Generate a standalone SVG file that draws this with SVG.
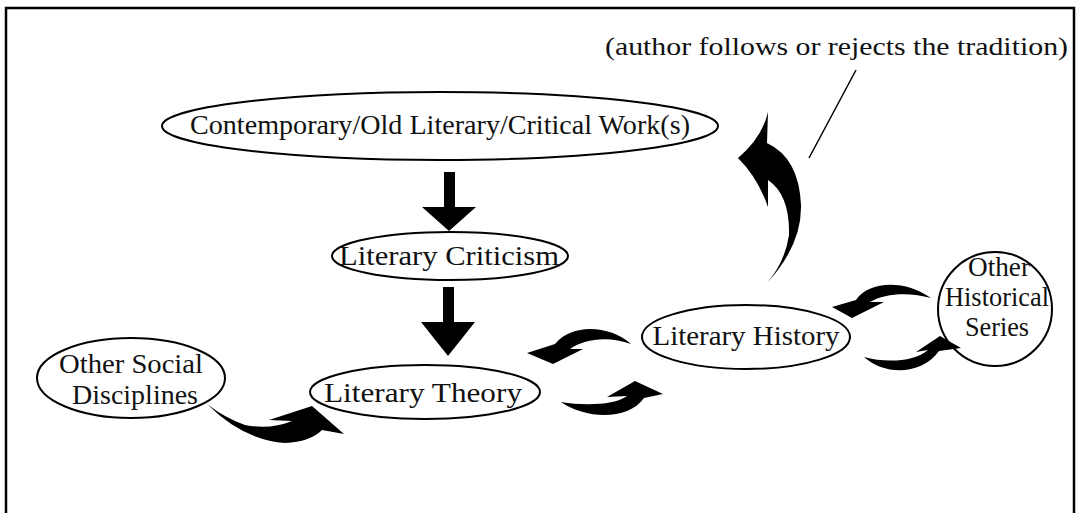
<svg xmlns="http://www.w3.org/2000/svg" width="1084" height="513" viewBox="0 0 1084 513">
<style>
.node{fill:#fff;stroke:#000;stroke-width:2}
.lbl{font-family:"Liberation Serif","Times New Roman",serif;font-size:28px;fill:#111;text-anchor:middle}
.arr{fill:#000;stroke:none}
</style>
<rect x="0" y="0" width="1084" height="513" fill="#fff"/>
<path d="M6,513 V8 H1074 V513" fill="none" stroke="#000" stroke-width="2.5"/>
<g id="note">
<text x="1068" y="55" textLength="463" lengthAdjust="spacingAndGlyphs" style="font-family:'Liberation Serif','Times New Roman',serif;font-size:26px;fill:#111;text-anchor:end">(author follows or rejects the tradition)</text>
<line x1="856" y1="70" x2="809" y2="158" stroke="#000" stroke-width="1.5"/>
</g>
<g id="n-contemporary">
<ellipse class="node" cx="440" cy="126" rx="278" ry="34"/>
<text class="lbl" x="440" y="134" textLength="500" lengthAdjust="spacingAndGlyphs">Contemporary/Old Literary/Critical Work(s)</text>
</g>
<g id="n-criticism">
<ellipse class="node" cx="450" cy="256" rx="118" ry="24"/>
<text class="lbl" x="449" y="265" textLength="220" lengthAdjust="spacingAndGlyphs">Literary Criticism</text>
</g>
<g id="n-theory">
<ellipse class="node" cx="425" cy="392" rx="115" ry="27"/>
<text class="lbl" x="423" y="402" textLength="198" lengthAdjust="spacingAndGlyphs">Literary Theory</text>
</g>
<g id="n-social">
<ellipse class="node" cx="131" cy="378" rx="94" ry="40"/>
<text class="lbl" x="131" y="373" textLength="144" lengthAdjust="spacingAndGlyphs">Other Social</text>
<text class="lbl" x="135" y="404" textLength="126" lengthAdjust="spacingAndGlyphs">Disciplines</text>
</g>
<g id="n-history">
<ellipse class="node" cx="746" cy="337" rx="104" ry="32"/>
<text class="lbl" x="746" y="345" textLength="187" lengthAdjust="spacingAndGlyphs">Literary History</text>
</g>
<g id="n-historical">
<circle class="node" cx="995" cy="309" r="57"/>
<text class="lbl" x="999" y="276" textLength="62" lengthAdjust="spacingAndGlyphs">Other</text>
<text class="lbl" x="997" y="306" textLength="104" lengthAdjust="spacingAndGlyphs">Historical</text>
<text class="lbl" x="997" y="336" textLength="64" lengthAdjust="spacingAndGlyphs">Series</text>
</g>
<g id="connectors">
<path class="arr" d="M444,172 H455 V207 H476 L449,231 L422,207 H444 Z"/>
<path class="arr" d="M443,287 H454 V322 H475 L448,356 L421,322 H443 Z"/>
<path class="arr" d="M207,404 Q243,440 285,443 Q310,442 322,430 L344,434 L312,406 L269,420 L292,421 Q270,430 245,425 Q225,418 207,404 Z"/>
<path class="arr" d="M631,344 C610,325 572,323 555,344 L527,353 L553,364 L583,349 L570,349 C585,338 610,336 631,344 Z"/>
<path class="arr" d="M561,402 C585,419 628,421 644,398 L663,394 L635,381 L607,397 L627,396 C615,405 585,406 561,402 Z"/>
<path class="arr" d="M931,298 C905,279 868,281 856,300 L832,307 L852,318 L884,302 L870,302 C885,293 910,292 931,298 Z"/>
<path class="arr" d="M864,357 C885,376 922,375 939,351 L961,348 L940,336 L916,352 L928,350 C915,362 885,363 864,357 Z"/>
<path class="arr" d="M768,112 Q762,138 738,158 Q758,178 768,207 L768,180 Q790,195 789,235 Q785,262 767,283 Q802,245 801,205 Q799,158 767,143 Z"/>
</g>
</svg>
